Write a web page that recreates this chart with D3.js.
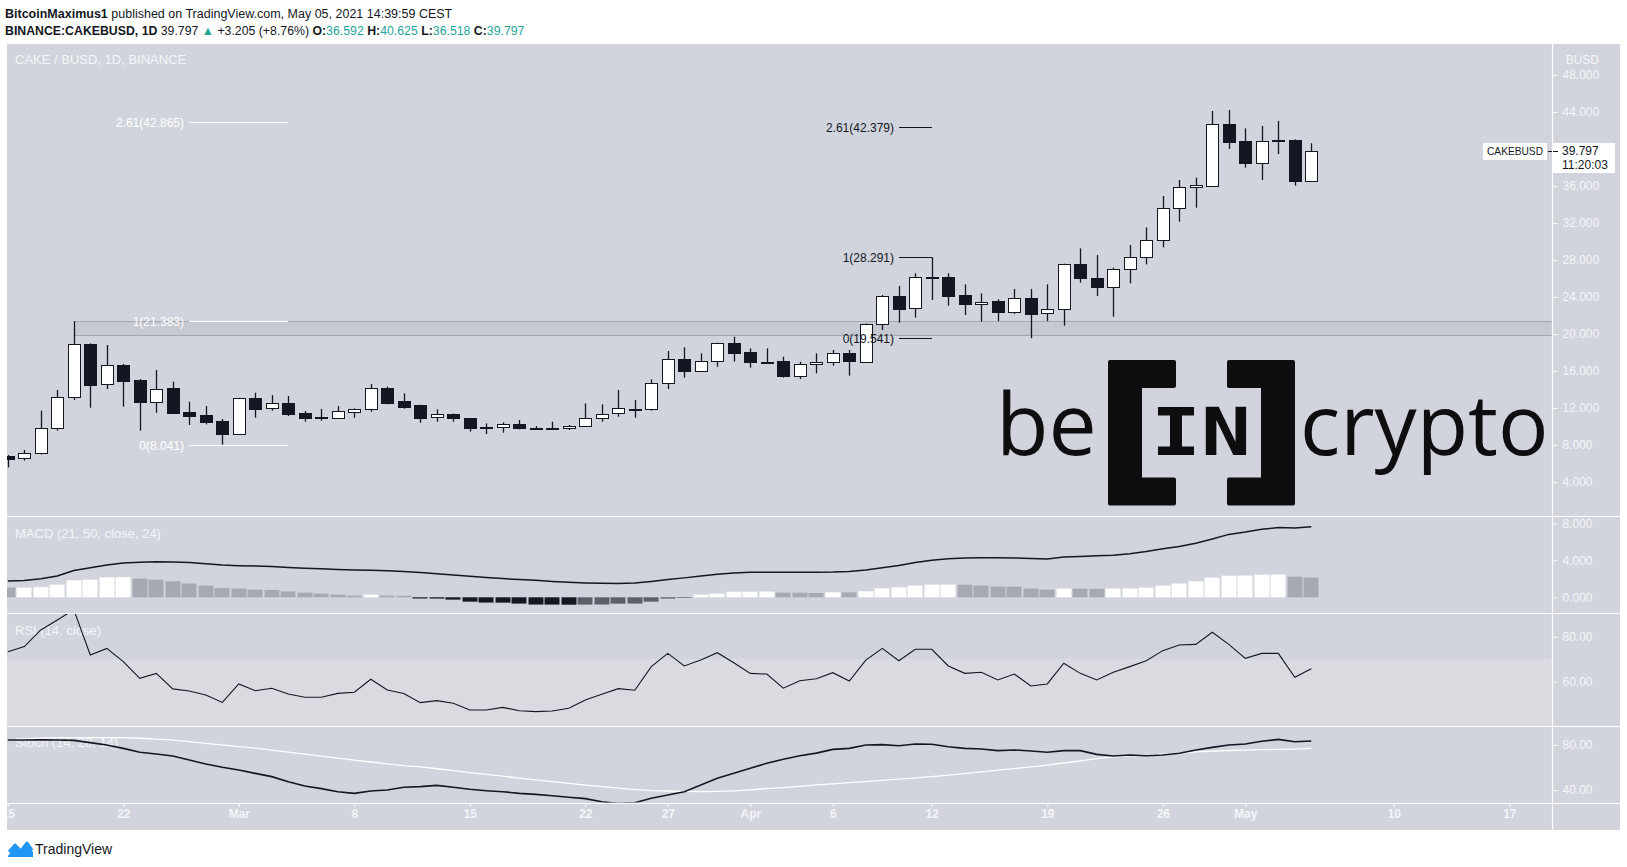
<!DOCTYPE html>
<html><head><meta charset="utf-8">
<script src="https://cdn.jsdelivr.net/npm/d3@7"></script>
<style>
html,body{margin:0;padding:0;background:#ffffff;}
svg{display:block;font-family:"Liberation Sans",Arial,sans-serif;}
</style></head><body>
<svg id="chart" width="1627" height="867"></svg>
<script>
// ---------------- data ----------------
const firstDay = "2021-02-15";
const lastDay = "2021-05-05";
const open  = [6.81,6.56,7.10,9.80,13.15,18.88,14.56,16.65,15.03,12.68,14.13,11.53,11.24,10.59,9.19,13.04,11.96,12.50,11.42,10.96,10.95,11.60,11.85,14.13,12.76,12.32,10.99,11.35,10.88,9.90,9.91,10.23,9.88,9.82,9.80,10.09,10.88,11.42,11.85,11.85,14.67,17.26,16.04,17.12,18.99,18.02,17.01,17.08,15.50,16.72,16.94,17.91,17.01,21.05,24.11,22.78,26.13,26.13,24.22,23.21,23.57,22.41,23.86,22.23,22.67,27.53,26.02,25.05,26.99,28.29,30.16,33.58,35.86,36.04,42.67,40.86,38.52,40.93,40.97,36.592];
const high  = [6.92,7.46,11.71,13.95,21.383,18.99,18.81,16.76,15.13,16.11,14.85,12.68,12.21,10.81,13.10,13.66,13.40,13.30,11.67,11.89,12.21,11.95,14.59,14.31,13.58,12.35,11.85,11.40,10.92,10.34,10.45,10.70,10.05,10.52,10.16,12.50,12.40,13.95,12.86,15.10,18.16,18.56,17.91,19.05,19.71,18.45,18.45,17.55,17.01,17.91,18.27,18.27,21.15,24.22,25.19,26.56,28.291,26.56,25.37,24.40,23.75,24.87,24.87,25.37,27.60,29.26,28.54,27.17,29.62,31.53,34.92,36.65,36.90,44.11,44.22,42.23,42.49,43.03,41.04,40.625];
const low   = [5.58,6.31,6.99,9.55,12.87,12.03,14.05,12.14,9.55,11.49,11.45,10.16,10.23,8.041,9.15,10.95,11.71,11.13,10.52,10.63,10.84,10.95,11.60,12.40,11.93,10.41,10.52,10.52,9.44,9.19,9.33,9.69,9.62,9.69,9.62,9.98,10.52,11.06,10.95,11.71,14.05,15.28,15.93,16.47,17.01,16.36,16.83,15.28,15.13,15.75,16.58,15.50,17.00,20.43,21.23,21.77,23.68,23.06,22.05,21.33,21.40,22.16,19.541,21.40,20.90,25.55,24.11,21.87,25.48,27.53,29.37,32.14,33.66,36.00,40.00,37.98,36.65,39.46,36.04,36.518];
const close = [6.52,7.10,9.80,13.15,18.88,14.49,16.65,14.95,12.68,14.02,11.49,11.17,10.52,9.19,13.04,11.89,12.50,11.35,10.95,11.00,11.67,11.89,14.13,12.58,12.14,10.95,11.31,10.88,9.87,9.92,10.23,9.80,9.86,9.84,10.05,10.88,11.31,11.96,11.92,14.67,17.26,16.04,17.12,18.99,17.98,17.01,16.97,15.50,16.76,16.94,17.91,17.12,21.05,24.11,22.74,26.13,26.10,24.11,23.21,23.50,22.41,23.86,22.16,22.67,27.53,26.02,25.12,26.99,28.29,30.16,33.58,35.86,36.11,42.67,40.79,38.52,40.86,40.90,36.58,39.797];

const macdLine = [1.76,1.82,2.00,2.30,2.90,3.20,3.50,3.72,3.80,3.85,3.82,3.75,3.62,3.48,3.42,3.38,3.32,3.22,3.15,3.08,3.00,2.95,2.92,2.88,2.80,2.68,2.55,2.42,2.28,2.15,2.02,1.92,1.83,1.72,1.62,1.55,1.51,1.50,1.55,1.72,1.92,2.10,2.30,2.48,2.62,2.70,2.72,2.70,2.70,2.72,2.74,2.80,2.95,3.20,3.45,3.75,4.00,4.18,4.25,4.28,4.28,4.25,4.20,4.14,4.35,4.42,4.48,4.55,4.72,4.95,5.25,5.50,5.84,6.30,6.80,7.05,7.35,7.55,7.50,7.63];
const macdHist = [1.05,1.05,1.10,1.37,1.84,1.91,2.16,2.17,2.02,1.91,1.73,1.48,1.26,1.00,0.94,0.83,0.80,0.63,0.50,0.40,0.29,0.18,0.29,0.18,0.17,-0.13,-0.14,-0.25,-0.47,-0.57,-0.58,-0.68,-0.78,-0.79,-0.80,-0.79,-0.78,-0.69,-0.68,-0.47,-0.14,-0.07,0.29,0.40,0.60,0.61,0.62,0.50,0.49,0.47,0.54,0.53,0.65,0.97,1.08,1.26,1.36,1.37,1.36,1.26,1.16,1.15,0.94,0.83,0.94,0.93,0.92,0.94,0.95,1.04,1.26,1.48,1.73,2.13,2.34,2.35,2.45,2.46,2.23,2.13];
const rsi = [73.3,75.6,83.0,87.4,92.0,71.9,74.8,68.9,61.5,63.7,56.8,55.9,54.1,50.8,59.0,56.0,57.1,54.5,53.1,53.1,54.8,55.3,61.1,56.3,54.8,50.7,51.6,50.4,47.4,47.4,48.6,47.1,46.7,47.0,48.2,51.9,54.4,56.9,56.2,66.7,72.6,67.0,69.6,72.9,68.4,63.7,63.4,57.1,60.4,61.3,64.0,60.3,69.6,74.8,69.3,74.4,74.4,67.0,63.7,64.2,60.8,63.4,58.1,59.0,68.2,63.7,60.8,64.2,66.7,69.3,73.8,76.3,76.6,82.0,76.6,70.4,72.6,72.6,62.0,65.8];
const stochK = [84.4,84.4,84.7,84.4,84.1,82.1,80.0,77.0,73.5,72.0,70.2,66.7,63.1,60.2,57.8,54.8,51.9,47.4,43.6,41.2,38.5,37.0,39.1,40.0,42.4,43.0,44.1,42.4,40.6,39.4,38.5,37.0,36.1,34.9,33.5,32.3,29.6,28.0,28.7,32.6,35.6,38.5,44.4,50.4,54.8,59.3,63.7,67.3,70.4,72.8,76.1,77.0,80.0,80.3,79.4,80.9,80.6,78.5,77.0,76.4,75.0,75.6,74.7,73.5,75.0,75.0,71.7,70.2,71.1,70.5,71.1,72.6,75.6,77.9,80.0,80.9,83.3,85.0,82.9,83.6];
const stochD = [84.4,85.5,86.2,86.5,86.6,86.6,86.6,86.5,86.0,85.3,84.3,83.0,81.5,80.1,78.6,77.2,75.5,73.6,71.8,70.1,68.4,66.6,64.9,63.3,61.6,60.5,58.9,57.2,55.5,53.9,52.3,50.6,49.0,47.4,45.8,44.4,43.0,41.6,40.4,39.5,39.1,38.8,38.6,38.7,39.2,40.2,41.3,42.2,43.3,44.6,45.5,46.5,47.5,48.5,49.6,50.7,51.8,53.2,54.6,56.1,57.6,59.0,60.6,62.2,64.0,65.9,67.8,69.4,70.3,71.0,71.9,72.8,73.8,74.6,75.1,75.5,75.8,76.1,76.4,77.0];

const priceTicks = [4,8,12,16,20,24,28,32,36,40,44,48];
const macdTicks = [0,4,8];
const rsiTicks = [60,80];
const stochTicks = [40,80];
const xTickDates  = ["2021-02-15","2021-02-22","2021-03-01","2021-03-08","2021-03-15","2021-03-22","2021-03-27","2021-04-01","2021-04-06","2021-04-12","2021-04-19","2021-04-26","2021-05-01","2021-05-10","2021-05-17"];
const xTickLabels = ["15","22","Mar","8","15","22","27","Apr","6","12","19","26","May","10","17"];

const fibLeftLevels  = ["0","1","2.61"];
const fibLeftPrices  = [8.041,21.383,42.865];
const fibLeftSpan    = ["2021-02-26","2021-03-04"];
const fibRightLevels = ["0","1","2.61"];
const fibRightPrices = [19.541,28.291,42.379];
const fibRightSpan   = ["2021-04-10","2021-04-12"];
const zonePrices = [19.9, 21.383];
const zoneStart = "2021-02-19";
const lastPrice = 39.797;
const countdown = "11:20:03";

// ---------------- layout ----------------
const svg = d3.select("#chart");
const L = 7, R = 1552, AR = 1620;
const P = {price:[44,516], macd:[516,613], rsi:[613,726], stoch:[726,802.5]};
const AXB = 830;
const C = {bg:"#d1d4dc", band:"#d9dbe1", ink:"#131722", lbl:"#f4f5f8", teal:"#26a69a",
           histUpRise:"#ffffff", histUpFall:"#a6a9b2", histDnFall:"#131722", histDnRise:"#5d606b"};

const dates = d3.utcDay.range(new Date(firstDay), d3.utcDay.offset(new Date(lastDay), 1));
const x = d3.scaleUtc().domain([new Date("2021-02-15"), new Date("2021-05-17")]).range([7.8, 1509.3]);
const yP = d3.scaleLinear().domain([0, 48]).range([519, 75]);
const yM = d3.scaleLinear().domain([0, 8]).range([597.3, 523.3]);
const yR = d3.scaleLinear().domain([60, 80]).range([681.7, 636.7]);
const yS = d3.scaleLinear().domain([40, 80]).range([790, 745]);
const cx = i => Math.round(x(dates[i])) + 0.5;

// header
const h1 = svg.append("text").attr("x", 5).attr("y", 18).attr("font-size", 12.5).attr("fill", C.ink);
h1.append("tspan").attr("font-weight", "bold").text("BitcoinMaximus1");
h1.append("tspan").text(" published on TradingView.com, May 05, 2021 14:39:59 CEST");
const h2 = svg.append("text").attr("x", 5).attr("y", 35).attr("font-size", 12.3).attr("fill", C.ink);
h2.append("tspan").attr("font-weight", "bold").text("BINANCE:CAKEBUSD, 1D");
h2.append("tspan").text(" 39.797 ");
h2.append("tspan").attr("fill", C.teal).text("▲");
h2.append("tspan").text(" +3.205 (+8.76%) ");
[["O:","36.592"],["H:","40.625"],["L:","36.518"],["C:","39.797"]].forEach(([k,v],j)=>{
  h2.append("tspan").attr("font-weight","bold").text((j? " ":"")+k);
  h2.append("tspan").attr("fill", C.teal).text(v);
});

// background
svg.append("rect").attr("x", L).attr("y", P.price[0]).attr("width", AR - L).attr("height", AXB - P.price[0]).attr("fill", C.bg);

// clip paths
const defs = svg.append("defs");
Object.entries(P).forEach(([k,[t,b]]) => {
  defs.append("clipPath").attr("id", "clip-"+k).append("rect").attr("x", L).attr("y", t).attr("width", R - L).attr("height", b - t);
});
defs.append("clipPath").attr("id","clip-x").append("rect").attr("x", L).attr("y", P.stoch[1]).attr("width", R - L).attr("height", AXB - P.stoch[1]);

// RSI band
svg.append("rect").attr("x", L).attr("y", yR(70)).attr("width", R - L).attr("height", P.rsi[1] - yR(70)).attr("fill", C.band);

// ---------------- price pane ----------------
const gp = svg.append("g").attr("clip-path", "url(#clip-price)");
// zone
gp.append("rect").attr("x", Math.round(x(new Date(zoneStart))) + 0.5).attr("y", Math.round(yP(zonePrices[1])) + 0.5)
  .attr("width", R - Math.round(x(new Date(zoneStart)))).attr("height", Math.round(yP(zonePrices[0])) - Math.round(yP(zonePrices[1])))
  .attr("fill", "#c6c9d1").attr("stroke", "#a4a7b0").attr("stroke-width", 1);

// logo watermark
const logo = svg.append("g").attr("fill", "#0e0e10");
logo.append("text").attr("x", 996).attr("y", 455).attr("font-family", "'Open Sans'").attr("font-size", 86).text("be");
logo.append("text").attr("x", 1300).attr("y", 455).attr("font-family", "'Open Sans'").attr("font-size", 84).text("crypto");
const bx0 = 1110, bx1 = 1293, bt = 362, bb = 503.5, bw = 30, armL = 64, armT = 24;
const bracket = (xo, dir) => {
  const xi = xo + dir*bw, xe = xo + dir*armL;
  return `M${xo},${bt} L${xe},${bt} L${xe},${bt+armT} L${xi},${bt+armT} L${xi},${bb-armT} L${xe},${bb-armT} L${xe},${bb} L${xo},${bb} Z`;
};
logo.append("path").attr("d", bracket(bx0, 1)).attr("stroke", "#0e0e10").attr("stroke-width", 4).attr("stroke-linejoin", "round");
logo.append("path").attr("d", bracket(bx1, -1)).attr("stroke", "#0e0e10").attr("stroke-width", 4).attr("stroke-linejoin", "round");
logo.append("text").attr("x", 1151).attr("y", 455).attr("font-family", "'DejaVu Sans Mono'").attr("font-weight", "bold")
  .attr("font-size", 66).attr("textLength", 100).attr("lengthAdjust", "spacingAndGlyphs").text("IN");

// candles
const cg = gp.append("g");
dates.forEach((d, i) => {
  const o = open[i], c = close[i], X = cx(i);
  cg.append("line").attr("x1", X).attr("x2", X).attr("y1", yP(high[i])).attr("y2", yP(low[i])).attr("stroke", C.ink).attr("stroke-width", 1.3);
  const top = Math.round(yP(Math.max(o, c))) + 0.5, bot = Math.round(yP(Math.min(o, c))) + 0.5;
  cg.append("rect").attr("x", X - 6).attr("y", top).attr("width", 12).attr("height", Math.max(1, bot - top))
    .attr("fill", c >= o ? "#ffffff" : C.ink).attr("stroke", C.ink).attr("stroke-width", 1);
});

// fib drawings
function fib(levels, prices, span, color) {
  const x1 = Math.round(x(new Date(span[0]))), x2 = Math.round(x(new Date(span[1])));
  levels.forEach((lv, k) => {
    const y = Math.round(yP(prices[k])) + 0.5;
    gp.append("line").attr("x1", x1).attr("x2", x2).attr("y1", y).attr("y2", y).attr("stroke", color).attr("stroke-width", 1);
    gp.append("text").attr("x", x1 - 5).attr("y", y).attr("dy", "0.35em").attr("text-anchor", "end")
      .attr("font-size", 12).attr("fill", color).text(`${lv}(${prices[k].toFixed(3)})`);
  });
}
fib(fibLeftLevels, fibLeftPrices, fibLeftSpan, "#ffffff");
fib(fibRightLevels, fibRightPrices, fibRightSpan, C.ink);

gp.append("text").attr("x", 15).attr("y", 64).attr("font-size", 13).attr("fill", C.lbl).text("CAKE / BUSD, 1D, BINANCE");

// ---------------- MACD ----------------
const gm = svg.append("g").attr("clip-path", "url(#clip-macd)");
macdHist.forEach((v, i) => {
  const prev = i > 0 ? macdHist[i-1] : Infinity;
  const col = v >= 0 ? (v >= prev ? C.histUpRise : C.histUpFall) : (v <= prev ? C.histDnFall : C.histDnRise);
  const X = Math.round(x(dates[i]));
  gm.append("rect").attr("x", X - 7.5).attr("width", 15)
    .attr("y", yM(Math.max(0, v))).attr("height", Math.abs(yM(v) - yM(0))).attr("fill", col);
});
gm.append("path").datum(macdLine).attr("fill", "none").attr("stroke", C.ink).attr("stroke-width", 1.5)
  .attr("d", d3.line().x((d, i) => x(dates[i])).y(d => yM(d)));
gm.append("text").attr("x", 15).attr("y", 538).attr("font-size", 13).attr("fill", C.lbl).text("MACD (21, 50, close, 24)");

// ---------------- RSI ----------------
const gr = svg.append("g").attr("clip-path", "url(#clip-rsi)");
gr.append("text").attr("x", 15).attr("y", 635).attr("font-size", 13).attr("fill", C.lbl).text("RSI (14, close)");
gr.append("path").datum(rsi).attr("fill", "none").attr("stroke", C.ink).attr("stroke-width", 1.1)
  .attr("d", d3.line().x((d, i) => x(dates[i])).y(d => yR(d)));

// ---------------- Stoch ----------------
const gs = svg.append("g").attr("clip-path", "url(#clip-stoch)");
gs.append("text").attr("x", 15).attr("y", 747).attr("font-size", 13).attr("fill", C.lbl).text("Stoch (14, 28, 14)");
gs.append("path").datum(stochD).attr("fill", "none").attr("stroke", "#ffffff").attr("stroke-width", 1.3)
  .attr("d", d3.line().x((d, i) => x(dates[i])).y(d => yS(d)));
gs.append("path").datum(stochK).attr("fill", "none").attr("stroke", C.ink).attr("stroke-width", 1.6)
  .attr("d", d3.line().x((d, i) => x(dates[i])).y(d => yS(d)));

// ---------------- separators ----------------
[P.price[1], P.macd[1], P.rsi[1], P.stoch[1]].forEach(y => {
  svg.append("line").attr("x1", L).attr("x2", AR).attr("y1", Math.round(y) + 0.5).attr("y2", Math.round(y) + 0.5)
    .attr("stroke", "#ffffff").attr("stroke-width", 1.2);
});
svg.append("line").attr("x1", R + 0.5).attr("x2", R + 0.5).attr("y1", P.price[0]).attr("y2", AXB).attr("stroke", "#ffffff").attr("stroke-width", 1.2);

// ---------------- axes ----------------
function rightAxis(scale, ticks, fmt) {
  const g = svg.append("g").attr("transform", `translate(${R + 0.5},0)`)
    .call(d3.axisRight(scale).tickValues(ticks).tickSize(5).tickPadding(5).tickFormat(d3.format(fmt)));
  g.select(".domain").remove();
  g.selectAll(".tick line").attr("stroke", "#ffffff");
  g.selectAll(".tick text").attr("fill", C.lbl).attr("font-size", 12).attr("font-family", "'Liberation Sans', Arial, sans-serif");
  return g;
}
rightAxis(yP, priceTicks, ".3f");
rightAxis(yM, macdTicks, ".3f");
rightAxis(yR, rsiTicks, ".2f");
rightAxis(yS, stochTicks, ".2f");
svg.append("text").attr("x", 1599).attr("y", 64).attr("text-anchor", "end").attr("font-size", 12).attr("fill", C.lbl).text("BUSD");

// last price labels
const ly = Math.round(yP(lastPrice));
svg.append("rect").attr("x", 1483).attr("y", ly - 8).attr("width", 64).attr("height", 17).attr("fill", "#ffffff");
svg.append("text").attr("x", 1487).attr("y", ly).attr("dy", "0.35em").attr("font-size", 11.5)
  .attr("textLength", 56).attr("lengthAdjust", "spacingAndGlyphs").attr("fill", C.ink).text("CAKEBUSD");
svg.append("line").attr("x1", 1548).attr("x2", 1552).attr("y1", ly + 0.5).attr("y2", ly + 0.5).attr("stroke", C.ink);
svg.append("rect").attr("x", 1553).attr("y", ly - 8).attr("width", 62).attr("height", 30).attr("fill", "#ffffff");
svg.append("line").attr("x1", 1553).attr("x2", 1558).attr("y1", ly + 0.5).attr("y2", ly + 0.5).attr("stroke", C.ink);
svg.append("text").attr("x", 1562).attr("y", ly).attr("dy", "0.35em").attr("font-size", 12).attr("fill", C.ink).text(lastPrice.toFixed(3));
svg.append("text").attr("x", 1562).attr("y", ly + 14).attr("dy", "0.35em").attr("font-size", 12).attr("fill", C.ink).text(countdown);

// x axis
const gx = svg.append("g").attr("clip-path", "url(#clip-x)").append("g").attr("transform", `translate(0,${P.stoch[1]})`)
  .call(d3.axisBottom(x).tickValues(xTickDates.map(s => new Date(s))).tickFormat((d, i) => xTickLabels[i]).tickSize(4).tickPadding(3));
gx.select(".domain").remove();
gx.selectAll(".tick line").attr("stroke", "#ffffff");
gx.selectAll(".tick text").attr("fill", C.lbl).attr("font-size", 12).attr("font-weight", "bold").attr("font-family", "'Liberation Sans', Arial, sans-serif");

// TradingView footer
const tv = svg.append("g");
tv.append("path").attr("d", "M8,856 L15,846 L21,852 L27,844 L33,852 L33,857 L8,857 Z").attr("fill", "#2196f3");
tv.append("path").attr("d", "M9,852 L15,845 L21,851 L27,843 L32,850").attr("fill", "none").attr("stroke", "#2196f3").attr("stroke-width", 3).attr("stroke-linejoin", "round");
tv.append("text").attr("x", 35).attr("y", 854).attr("font-size", 14).attr("fill", C.ink).text("TradingView");
</script>
</body></html>
